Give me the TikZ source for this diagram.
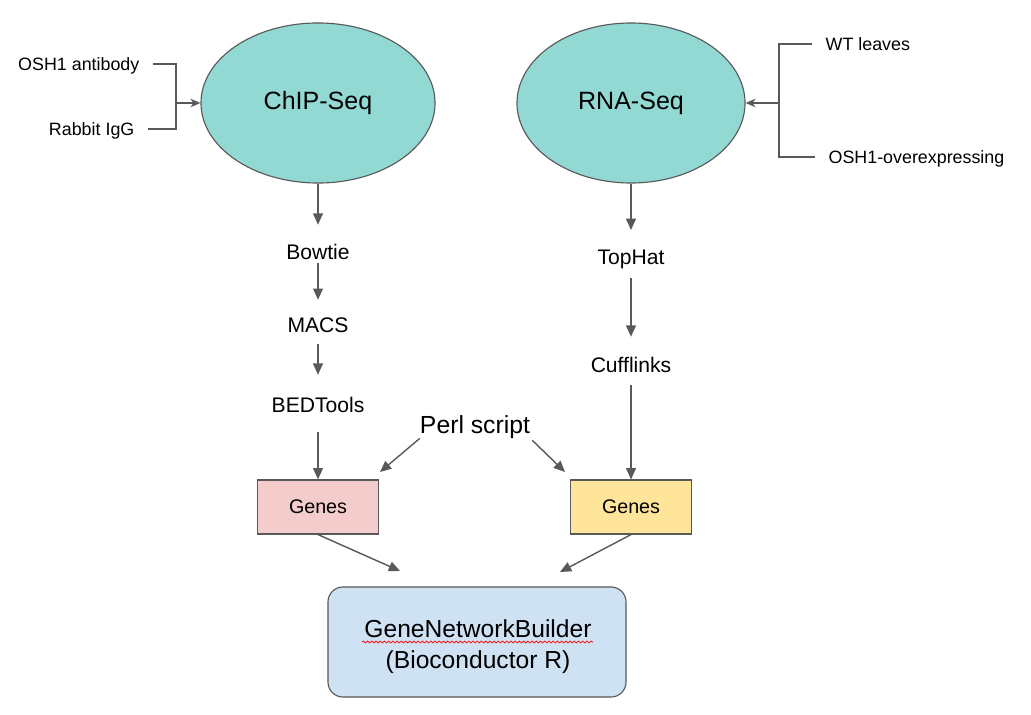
\documentclass[tikz,border=0pt]{standalone}
\usepackage{fontspec}
\setmainfont{Liberation Sans}
\usetikzlibrary{arrows.meta}
\usetikzlibrary{shapes.geometric}
\usetikzlibrary{decorations.pathmorphing}
\definecolor{seqfill}{HTML}{92D9D4}
\definecolor{chipgenes}{HTML}{F4CCCC}
\definecolor{rnagenes}{HTML}{FFE599}
\definecolor{builderfill}{HTML}{CFE2F3}
\definecolor{wiregray}{HTML}{595959}
\tikzset{
  seq/.style={ellipse, draw=wiregray, fill=seqfill, line width=0.8pt, inner sep=0pt, minimum height=4cm, font=\fontsize{17.8}{21}\selectfont},
  tool/.style={inner sep=0pt, text height=10.7pt, text depth=0pt, anchor=base, font=\fontsize{15}{18}\selectfont},
  input/.style={inner xsep=9.5pt, inner ysep=0pt, text height=9.1pt, text depth=0pt, font=\fontsize{12.7}{15}\selectfont},
  genes/.style={draw=wiregray, line width=0.8pt, minimum width=3.02cm, minimum height=1.35cm, font=\fontsize{14}{17}\selectfont},
  builder/.style={draw=wiregray, line width=0.8pt, fill=builderfill, rounded corners=0.375cm, minimum width=7.45cm, minimum height=2.75cm},
  builderlabel/.style={inner sep=0pt, align=center, font=\fontsize{17.5}{22}\selectfont},
  wire/.style={draw=wiregray, line width=1pt},
  flow/.style={wire, -{Triangle[length=8pt,width=7pt]}},
  feed/.style={wire, -{Stealth[length=7pt,width=6pt,inset=2pt]}},
}

\begin{document}
\begin{tikzpicture}[x=0.025cm,y=-0.025cm]
            \useasboundingbox (0,0) rectangle (1031,715);
            \coordinate (jl) at (176,103);
            \coordinate (jr) at (779,103);
            \coordinate (perlL) at (380,472);
            \coordinate (perlR) at (565,472);
            \coordinate (mergeL) at (400,571);
            \coordinate (mergeR) at (560,572);
            \node[seq, minimum width=5.85cm] (chip) at (318,103) {ChIP-Seq};
            \node[seq, minimum width=5.7cm] (rna) at (631,103) {RNA-Seq};
            \node[input, anchor=east] (antibody) at (153,64) {OSH1 antibody};
            \node[input, anchor=east] (igg) at (148,129) {Rabbit IgG};
            \node[input, anchor=west] (wt) at (812,44) {WT leaves};
            \node[input, anchor=west] (overexp) at (815,157) {OSH1-overexpressing};
            \node[tool] (bowtie) at (318,260) {Bowtie};
            \node[tool] (macs) at (318,332) {MACS};
            \node[tool] (bedtools) at (318,412) {BEDTools};
            \node[tool] (tophat) at (631,265) {TopHat};
            \node[tool] (cufflinks) at (631,372) {Cufflinks};
            \node[inner sep=0pt, anchor=base, font=\fontsize{17.6}{21}\selectfont] (perl) at (475,433) {Perl script};
            \node[genes, fill=chipgenes] (genesL) at (318,507) {Genes};
            \node[genes, fill=rnagenes] (genesR) at (631,507) {Genes};
            \node[builder] (gnb) at (477,642) {};
            \node[builderlabel] (gnblabel) at (478,647) {GeneNetworkBuilder\\(Bioconductor R)};
            \draw[red, line width=0.5pt, decorate, decoration={snake, amplitude=0.7pt, segment length=3pt}] (362,642) -- (593,642);
            \draw[wire] (antibody.east) -| (jl);
            \draw[wire] (igg.east) -| (jl);
            \draw[feed] (jl) -- (chip.west);
            \draw[wire] (wt.west) -| (jr);
            \draw[wire] (overexp.west) -| (jr);
            \draw[feed] (jr) -- (rna.east);
            \draw[flow, shorten >=14.2pt] (chip.south) -- (bowtie.north);
            \draw[flow, shorten <=2pt, shorten >=12pt] (bowtie.south) -- (macs.north);
            \draw[flow, shorten <=8pt, shorten >=15.6pt] (macs.south) -- (bedtools.north);
            \draw[flow, shorten <=14pt] (bedtools.south) -- (genesL.north);
            \draw[flow, shorten >=14pt] (rna.south) -- (tophat.north);
            \draw[flow, shorten <=9.2pt, shorten >=14.2pt] (tophat.south) -- (cufflinks.north);
            \draw[flow, shorten <=9.2pt] (cufflinks.south) -- (genesR.north);
            \draw[flow] (perl.south west) -- (perlL);
            \draw[flow, shorten <=2pt] (perl.south east) -- (perlR);
            \draw[flow] (genesL.south) -- (mergeL);
            \draw[flow] (genesR.south) -- (mergeR);
\end{tikzpicture}
\end{document}
